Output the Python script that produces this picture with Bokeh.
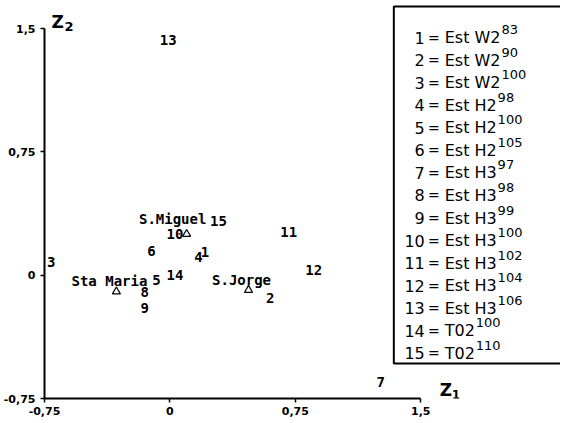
from bokeh.plotting import figure
from bokeh.models import ColumnDataSource, Range1d, FixedTicker, Label
from bokeh.embed import file_html
from bokeh.resources import INLINE
from bokeh.core.properties import value

# ---------------- data ----------------
point_labels = ["1", "2", "3", "4", "5", "6", "7", "8", "9", "10", "11", "12", "13", "14", "15"]
z1 = [0.21, 0.60, -0.71, 0.17, -0.08, -0.11, 1.26, -0.15, -0.15, 0.03, 0.71, 0.86, -0.01, 0.03, 0.29]
z2 = [0.14, -0.14, 0.08, 0.11, -0.03, 0.15, -0.65, -0.10, -0.20, 0.25, 0.26, 0.03, 1.43, 0.00, 0.33]

islands = ["S.Miguel", "Sta Maria", "S.Jorge"]
isl_z1 = [0.10, -0.32, 0.47]
isl_z2 = [0.25, -0.10, -0.09]

tick_values = [-0.75, 0, 0.75, 1.5]
tick_labels = ["-0,75", "0", "0,75", "1,5"]

legend_num = ["1", "2", "3", "4", "5", "6", "7", "8", "9", "10", "11", "12", "13", "14", "15"]
legend_name = ["Est W2", "Est W2", "Est W2", "Est H2", "Est H2", "Est H2", "Est H3", "Est H3",
               "Est H3", "Est H3", "Est H3", "Est H3", "Est H3", "T02", "T02"]
legend_sup = ["83", "90", "100", "98", "100", "105", "97", "98", "99", "100", "102", "104", "106", "100", "110"]

# ---------------- layout ----------------
W, H = 560, 420
LEFT = 43
BOTTOM = H - 398
SX = (420 - 43) / 2.25   # px per unit (x)
SY = (398 - 28) / 2.25   # px per unit (y)
x_end = -0.75 + (W - LEFT) / SX
y_end = -0.75 + (H - BOTTOM) / SY


def X(px):  # page pixel -> data x
    return -0.75 + (px - 43) / SX


def Y(py):  # page pixel -> data y
    return -0.75 + (398 - py) / SY


p = figure(width=W, height=H, x_range=Range1d(-0.75, x_end), y_range=Range1d(-0.75, y_end),
           output_backend="svg", toolbar_location=None,
           min_border_left=LEFT, min_border_bottom=BOTTOM, min_border_top=0, min_border_right=0)
p.outline_line_color = None
p.grid.visible = False
p.background_fill_color = "white"
p.border_fill_color = "white"

for ax in (p.xaxis[0], p.yaxis[0]):
    ax.ticker = FixedTicker(ticks=tick_values)
    ax.major_label_overrides = {v: t for v, t in zip(tick_values, tick_labels)}
    ax.bounds = (-0.75, 1.5)
    ax.minor_tick_line_color = None
    ax.major_tick_in = 0
    ax.major_tick_out = 4
    ax.axis_line_width = 2
    ax.axis_line_color = "black"
    ax.major_tick_line_width = 1.5
    ax.major_tick_line_color = "black"
    ax.major_label_text_font = "DejaVu Sans"
    ax.major_label_text_font_size = "11px"
    ax.major_label_text_font_style = "bold"
    ax.major_label_text_color = "black"
p.xaxis[0].major_label_standoff = 4
p.yaxis[0].major_label_standoff = 5

# points (numbers)
src = ColumnDataSource(dict(x=z1, y=z2, t=point_labels))
p.text(x="x", y="y", text="t", source=src, text_font=value("DejaVu Sans Mono"),
       text_font_style="bold", text_font_size="14px", text_align="center",
       text_baseline="middle", text_color="black")

# islands
p.scatter(isl_z1, isl_z2, marker="triangle", size=8, fill_color=None,
          line_color="black", line_width=1.2)
name_dx = [-14, -7, -7]
name_dy = [-15, -11, -10]
name_src = ColumnDataSource(dict(
    x=[x + dx / SX for x, dx in zip(isl_z1, name_dx)],
    y=[y - dy / SY for y, dy in zip(isl_z2, name_dy)],
    t=islands))
p.text(x="x", y="y", text="t", source=name_src, text_font=value("DejaVu Sans Mono"),
       text_font_style="bold", text_font_size="14px", text_align="center",
       text_baseline="middle", text_color="black")

# legend box
p.quad(left=[X(393)], right=[X(600)], top=[Y(6)], bottom=[Y(363)], fill_color=None,
       line_color="black", line_width=2)
name_w = {"Est W2": 55.8, "Est H2": 52.0, "Est H3": 52.0, "T02": 30.1}
rows = range(len(legend_num))
base = [37 + 22.57 * i for i in rows]
lsrc = ColumnDataSource(dict(
    nx=[X(424)] * len(legend_num),
    ex=[X(433)] * len(legend_num),
    mx=[X(444)] * len(legend_num),
    sx=[X(444 + name_w[n] + 1) for n in legend_name],
    y=[Y(b) for b in base],
    sy=[Y(b - 8) for b in base],
    num=legend_num, eq=["="] * len(legend_num), name=legend_name, sup=legend_sup))
common = dict(source=lsrc, text_font=value("DejaVu Sans"), text_color="black",
              text_baseline="alphabetic")
p.text(x="nx", y="y", text="num", text_align="right", text_font_size="16px", **common)
p.text(x="ex", y="y", text="eq", text_align="center", text_font_size="14px", **common)
p.text(x="mx", y="y", text="name", text_align="left", text_font_size="16px", **common)
p.text(x="sx", y="sy", text="sup", text_align="left", text_font_size="13px", **common)

# axis titles (centre positions)
for txt, px, py, size in [("Z", 50, 21.5, "17px"), ("2", 63, 25.5, "13px"),
                          ("Z", 439, 389.5, "17px"), ("1", 451, 394, "12px")]:
    p.add_layout(Label(x=X(px), y=Y(py), text=txt, text_font="DejaVu Sans",
                       text_font_style="bold", text_font_size=size, text_align="left",
                       text_baseline="middle", text_color="black"))

open("out.html", "w").write(file_html(p, INLINE))
